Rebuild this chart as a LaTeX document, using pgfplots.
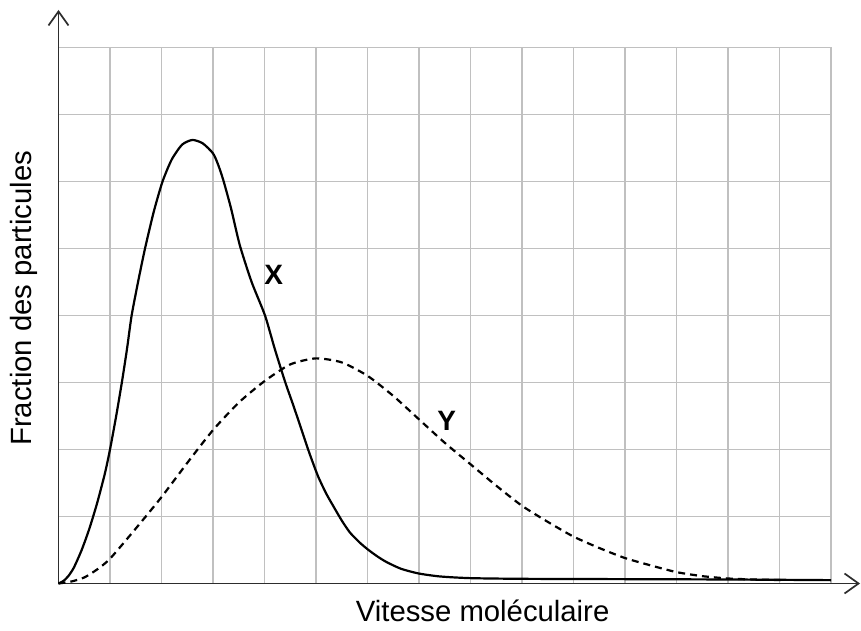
\documentclass[border=0pt]{standalone}
\usepackage{pgfplots}
\pgfplotsset{compat=1.18}
\usepackage{fontspec}
\setmainfont{Liberation Sans}
\usetikzlibrary{arrows.meta}
\definecolor{gridgray}{RGB}{192,192,192}
\definecolor{axisgray}{RGB}{45,45,45}
\begin{document}
\begin{tikzpicture}[x=1pt,y=1pt]
\useasboundingbox (0,0) rectangle (861,630);
\begin{axis}[
  at={(58.5pt,46.5pt)}, anchor=south west,
  scale only axis, width=772.5pt, height=536pt,
  xmin=0, xmax=15, ymin=0, ymax=8,
  xtick={0,...,15}, ytick={0,...,8},
  xticklabels={}, yticklabels={},
  major tick length=0pt,
  grid=major,
  major grid style={gridgray, line width=1.6pt},
  axis lines=left,
  x axis line style={axisgray, line width=1.7pt, -{Straight Barb[length=14pt,width=20pt]}, shorten >=-29pt},
  y axis line style={axisgray, line width=1.7pt, -{Straight Barb[length=14pt,width=20pt]}, shorten >=-37.5pt},
  xlabel={Vitesse moléculaire},
  ylabel={Fraction des particules},
  xlabel style={at={(axis description cs:0.549,-0.0713)}, anchor=base, font=\fontsize{29.3}{34}\selectfont},
  ylabel style={at={(axis description cs:-0.0347,0.532)}, anchor=base, font=\fontsize{29.3}{34}\selectfont},
  clip=false,
]
\addplot[black, line width=2.2pt, smooth, tension=0.4] coordinates {
(0,0) (0.1,0.04) (0.2,0.12) (0.3,0.24) (0.45,0.5) (0.6,0.82) (0.75,1.2) (0.9,1.64) (1.0,2.0) (1.12,2.5) (1.23,3.0) (1.33,3.5) (1.42,4.0) (1.55,4.52) (1.68,5.0) (1.85,5.55) (2.02,6.0) (2.2,6.33) (2.4,6.55) (2.6,6.62) (2.8,6.57) (3.0,6.42) (3.1,6.25) (3.2,6.02) (3.35,5.6) (3.52,5.05) (3.75,4.5) (4.01,4.0) (4.2,3.5) (4.4,3.01) (4.55,2.68) (4.7,2.34) (4.87,1.95) (5.04,1.6) (5.2,1.34) (5.34,1.15) (5.5,0.94) (5.66,0.76) (5.85,0.61) (6.02,0.5) (6.2,0.4) (6.37,0.32) (6.65,0.22) (6.99,0.15) (7.41,0.105) (8.0,0.08) (9,0.07) (11,0.065) (13,0.06) (15,0.05)
};
\addplot[black, line width=2.2pt, dash pattern=on 7pt off 5pt, smooth, tension=0.4] coordinates {
(0,0) (0.25,0.03) (0.5,0.09) (0.75,0.21) (1.0,0.37) (1.5,0.82) (2.0,1.29) (2.5,1.8) (3.0,2.29) (3.5,2.7) (4.0,3.02) (4.5,3.27) (5.0,3.36) (5.5,3.3) (6.0,3.1) (6.5,2.8) (7.0,2.45) (7.5,2.1) (8.0,1.78) (8.5,1.46) (9.0,1.16) (9.5,0.92) (10,0.70) (10.5,0.53) (11,0.38) (11.5,0.27) (12,0.17) (12.5,0.11) (13,0.075) (13.5,0.06) (14.07,0.05)
};
\node[font=\bfseries\fontsize{28}{33}\selectfont] at (axis cs:4.18,4.61) {X};
\node[font=\bfseries\fontsize{28}{33}\selectfont] at (axis cs:7.54,2.43) {Y};
\end{axis}
\end{tikzpicture}
\end{document}
